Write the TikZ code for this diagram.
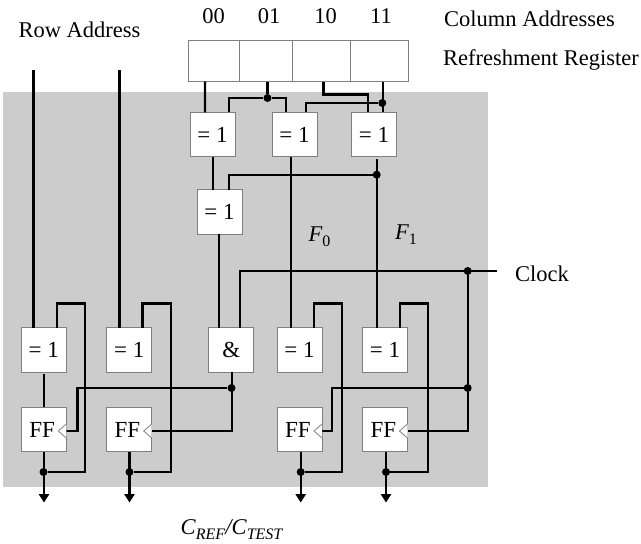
\documentclass[tikz,border=0pt]{standalone}
\usepackage{fontspec}
\setmainfont{Liberation Serif}
\usetikzlibrary{arrows.meta}
\definecolor{panelgray}{RGB}{204,204,204}
\definecolor{boxgray}{RGB}{128,128,128}
\newcommand{\subidx}[1]{\raisebox{-5pt}{\fontsize{16}{16}\selectfont #1}}
\tikzset{
	gate/.style={draw=boxgray,fill=white,line width=0.9pt,minimum width=45pt,minimum height=44.5pt,inner sep=0pt,outer sep=0pt,font=\fontsize{23}{26}\selectfont},
	cell/.style={draw=boxgray,fill=white,line width=0.9pt,minimum height=41pt,inner sep=0pt,outer sep=0pt},
	wire/.style={line width=2.4pt},
	junction/.style={circle,fill=black,inner sep=0pt,minimum size=8pt},
	outwire/.style={wire,-{Triangle[width=10pt,length=8.5pt]}},
	clocktip/.style={draw=boxgray,fill=white,line width=0.8pt},
	label/.style={inner sep=0pt,font=\fontsize{22.5}{26}\selectfont}
}
\begin{document}
\begin{tikzpicture}[x=1pt,y=-1pt]
	\useasboundingbox (0,0) rectangle (641,544);
	% gray panel
	\fill[panelgray] (3,92) rectangle (488,487);

	% labels
	\node[label] (lblRow) at (79.5,30) {Row Address};
	\node[label,anchor=west] (lblCol) at (444,19) {Column Addresses};
	\node[label,anchor=west] (lblReg) at (443,60) {Refreshment Register};
	\node[label,anchor=west] (lblClock) at (515,274) {Clock};
	\node[label] (lbl00) at (213.5,16) {00};
	\node[label] (lbl01) at (269,16) {01};
	\node[label] (lbl10) at (325.5,16) {10};
	\node[label] (lbl11) at (381,16) {11};
	\node[label] (lblFa) at (319.5,237) {\textit{F}\subidx{0}};
	\node[label] (lblFb) at (406,235) {\textit{F}\subidx{1}};
	\node[label] (lblOut) at (232,530) {\textit{C}\subidx{\textit{REF}}\textit{/C}\subidx{\textit{TEST}}};

	% refreshment register
	\node[cell,minimum width=51.7pt] (cellA) at (213.85,61.2) {};
	\node[cell,minimum width=52.6pt] (cellB) at (266,61.2) {};
	\node[cell,minimum width=58pt] (cellC) at (321.3,61.2) {};
	\node[cell,minimum width=58pt] (cellD) at (379.2,61.2) {};

	% gates
	\node[gate] (xorA) at (212.5,134.5) {= 1};
	\node[gate] (xorB) at (294.5,134.5) {= 1};
	\node[gate] (xorC) at (374,134.5) {= 1};
	\node[gate] (xorD) at (219.5,212) {= 1};
	\node[gate] (xorE) at (43.8,350) {= 1};
	\node[gate] (xorF) at (129.2,350) {= 1};
	\node[gate] (andG) at (231.2,350) {\&};
	\node[gate] (xorH) at (299.5,350) {= 1};
	\node[gate] (xorI) at (385,350) {= 1};

	% flip flops
	\node[gate,text width=41pt,align=left,inner sep=0pt] (ffA) at (43.8,429.5) {\hspace{6pt}FF};
	\node[gate,text width=41pt,align=left,inner sep=0pt] (ffB) at (129.2,429.5) {\hspace{6pt}FF};
	\node[gate,text width=41pt,align=left,inner sep=0pt] (ffC) at (299.5,429.5) {\hspace{6pt}FF};
	\node[gate,text width=41pt,align=left,inner sep=0pt] (ffD) at (385,429.5) {\hspace{6pt}FF};

	% junctions
	\node[junction] (jA) at (267.5,98) {};
	\node[junction] (jB) at (382.3,103) {};
	\node[junction] (jC) at (376.7,174.7) {};
	\node[junction] (jD) at (467.7,271) {};
	\node[junction] (jE) at (467.7,388) {};
	\node[junction] (jF) at (231.5,388) {};
	\node[junction] (jG) at (43.5,472) {};
	\node[junction] (jH) at (129.5,472) {};
	\node[junction] (jI) at (300.7,472) {};
	\node[junction] (jJ) at (386,472) {};

	% free ends and bends
	\coordinate (rowA) at (33.5,70);
	\coordinate (rowB) at (119.5,70);
	\coordinate (clockEnd) at (497,271);
	\coordinate (bendReg) at (368,94.5);
	\coordinate (bendA) at (77.5,431);
	\coordinate (bendB) at (332,431);
	\coordinate (loopA) at (85,303.3);
	\coordinate (loopB) at (171,303.3);
	\coordinate (loopC) at (342,303.3);
	\coordinate (loopD) at (427.7,303.3);
	\coordinate (outA) at (44,502.6);
	\coordinate (outB) at (129.5,502.6);
	\coordinate (outC) at (300.7,502.6);
	\coordinate (outD) at (386,502.6);

	% register to first gates
	\draw[wire] ([xshift=-8.8]cellA.south) -- ([xshift=-7.5]xorA.north);
	\draw[wire] ([xshift=1.5]cellB.south) -- (jA);
	\draw[wire] ([xshift=16.2]xorA.north) |- (jA);
	\draw[wire] (jA) -| ([xshift=-8.5]xorB.north);
	\draw[wire] ([xshift=2]cellC.south) |- (bendReg) -- ([xshift=-6]xorC.north);
	\draw[wire] ([xshift=3.8]cellD.south) -- ([xshift=9]xorC.north);
	\draw[wire] ([xshift=11.5]xorB.north) |- (jB);

	% gate outputs
	\draw[wire] ([xshift=0.5]xorA.south) -- ([xshift=-6.5]xorD.north);
	\draw[wire] ([xshift=-3.8]xorB.south) -- ([xshift=-8.8]xorH.north);
	\draw[wire] ([xshift=2.7,yshift=-2]xorC.south) -- ([xshift=-8.3]xorI.north);
	\draw[wire] ([xshift=9.2]xorD.north) |- (jC);
	\draw[wire] ([xshift=-0.8]xorD.south) -- ([xshift=-12.5]andG.north);

	% row address
	\draw[wire] (rowA) -- ([xshift=-10.3]xorE.north);
	\draw[wire] (rowB) -- ([xshift=-9.7]xorF.north);
	\draw[wire] ([yshift=-2]xorE.south) -- (ffA.north);

	% clock
	\draw[wire] ([xshift=8.8]andG.north) |- (clockEnd);
	\draw[wire] (jD) -- (jE);
	\draw[wire] (jE) |- ([yshift=-1.5]ffD.east);
	\draw[wire] (jE) -| (bendB) -- ([yshift=-1.5]ffC.east);
	\draw[wire] ([xshift=0.8]andG.south) |- ([yshift=-1.5]ffB.east);
	\draw[wire] (jF) -| (bendA) -- ([yshift=-1.5]ffA.east);

	% feedback loops
	\draw[wire] (jG) -| (loopA) -| ([xshift=13.2]xorE.north);
	\draw[wire] (jH) -| (loopB) -| ([xshift=13.3]xorF.north);
	\draw[wire] (jI) -| (loopC) -| ([xshift=14.5]xorH.north);
	\draw[wire] (jJ) -| (loopD) -| ([xshift=14.7]xorI.north);

	% outputs
	\draw[outwire] ([xshift=0.2]ffA.south) -- (outA);
	\draw[outwire] ([xshift=0.3]ffB.south) -- (outB);
	\draw[outwire] ([xshift=1.2]ffC.south) -- (outC);
	\draw[outwire] ([xshift=1]ffD.south) -- (outD);

	% clock inputs
	\draw[clocktip] ([yshift=5.5]ffA.east) -- ([xshift=-8,yshift=-1.5]ffA.east) -- ([yshift=-8.5]ffA.east);
	\draw[clocktip] ([yshift=5.5]ffB.east) -- ([xshift=-8,yshift=-1.5]ffB.east) -- ([yshift=-8.5]ffB.east);
	\draw[clocktip] ([yshift=5.5]ffC.east) -- ([xshift=-8,yshift=-1.5]ffC.east) -- ([yshift=-8.5]ffC.east);
	\draw[clocktip] ([yshift=5.5]ffD.east) -- ([xshift=-8,yshift=-1.5]ffD.east) -- ([yshift=-8.5]ffD.east);
\end{tikzpicture}
\end{document}
